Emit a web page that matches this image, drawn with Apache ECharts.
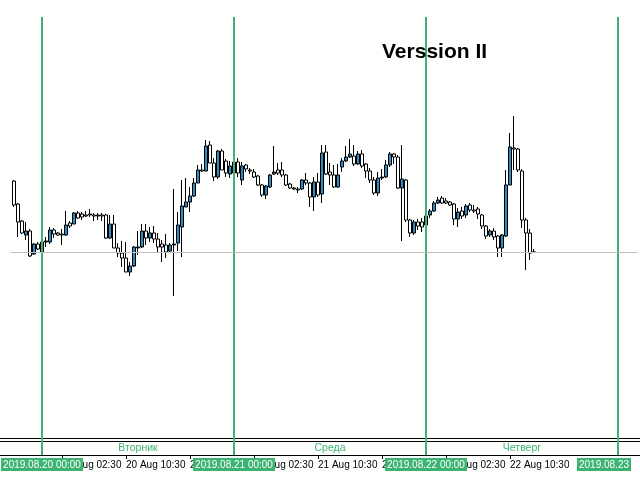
<!DOCTYPE html>
<html>
<head>
<meta charset="utf-8">
<script src="https://cdn.jsdelivr.net/npm/echarts/dist/echarts.min.js"></script>
<style>html,body{margin:0;padding:0;background:#fff}#c{width:640px;height:480px}</style>
</head>
<body>
<div id="c"></div>
<script>
// M30 candles, first candle 2019.08.19 20:30
const firstCandleIndex = 3;
const openP = [1.10219,1.10196,1.10179,1.10165,1.10169,1.10146,1.10156,1.10148,1.10158,1.10158,
1.10170,1.10167,1.10166,1.10165,1.10177,1.10176,1.10187,1.10186,1.10185,1.10186,
1.10185,1.10184,1.10185,1.10185,1.10162,1.10176,1.10152,1.10147,1.10142,1.10128,
1.10134,1.10152,1.10153,1.10169,1.10162,1.10167,1.10161,1.10156,1.10155,1.10149,
1.10155,1.10157,1.10173,1.10193,1.10198,1.10204,1.10217,1.10230,1.10229,1.10255,
1.10237,1.10223,1.10249,1.10239,1.10226,1.10227,1.10238,1.10220,1.10235,1.10230,
1.10228,1.10224,1.10215,1.10205,1.10213,1.10226,1.10230,1.10230,1.10225,1.10216,
1.10212,1.10211,1.10211,1.10220,1.10217,1.10203,1.10218,1.10206,1.10248,1.10228,
1.10225,1.10213,1.10233,1.10239,1.10243,1.10244,1.10236,1.10246,1.10236,1.10229,
1.10220,1.10207,1.10222,1.10223,1.10235,1.10246,1.10243,1.10212,1.10220,1.10180,
1.10167,1.10178,1.10178,1.10175,1.10185,1.10189,1.10197,1.10202,1.10199,1.10198,
1.10196,1.10181,1.10189,1.10185,1.10195,1.10190,1.10191,1.10185,1.10174,1.10165,
1.10169,1.10164,1.10152,1.10164,1.10215,1.10252,1.10251,1.10229,1.10180,1.10167,
1.10148];
const closeP = [1.10195,1.10178,1.10167,1.10169,1.10144,1.10156,1.10151,1.10158,1.10159,1.10170,
1.10166,1.10165,1.10165,1.10175,1.10174,1.10187,1.10182,1.10183,1.10184,1.10185,
1.10184,1.10185,1.10184,1.10162,1.10176,1.10152,1.10147,1.10142,1.10128,1.10134,
1.10153,1.10153,1.10169,1.10162,1.10167,1.10161,1.10153,1.10153,1.10148,1.10155,
1.10156,1.10175,1.10194,1.10198,1.10204,1.10217,1.10230,1.10229,1.10254,1.10237,
1.10223,1.10249,1.10230,1.10227,1.10234,1.10238,1.10227,1.10234,1.10231,1.10229,
1.10223,1.10215,1.10205,1.10214,1.10225,1.10228,1.10227,1.10225,1.10215,1.10212,
1.10211,1.10210,1.10220,1.10217,1.10203,1.10218,1.10205,1.10247,1.10226,1.10225,
1.10213,1.10225,1.10239,1.10243,1.10246,1.10236,1.10246,1.10234,1.10229,1.10220,
1.10207,1.10222,1.10223,1.10235,1.10246,1.10243,1.10212,1.10221,1.10180,1.10167,
1.10178,1.10174,1.10173,1.10184,1.10189,1.10197,1.10200,1.10197,1.10197,1.10195,
1.10181,1.10188,1.10184,1.10194,1.10190,1.10189,1.10186,1.10174,1.10164,1.10169,
1.10163,1.10152,1.10165,1.10215,1.10253,1.10251,1.10230,1.10180,1.10167,1.10147,
1.10148];
const lowP = [1.10193,1.10163,1.10166,1.10160,1.10143,1.10145,1.10150,1.10147,1.10153,1.10156,
1.10162,1.10164,1.10155,1.10164,1.10172,1.10176,1.10181,1.10180,1.10183,1.10183,
1.10179,1.10180,1.10179,1.10161,1.10161,1.10152,1.10143,1.10133,1.10128,1.10124,
1.10133,1.10145,1.10152,1.10155,1.10158,1.10157,1.10148,1.10138,1.10142,1.10147,
1.10104,1.10149,1.10143,1.10193,1.10188,1.10203,1.10217,1.10228,1.10229,1.10237,
1.10219,1.10221,1.10230,1.10223,1.10222,1.10224,1.10223,1.10215,1.10228,1.10226,
1.10222,1.10214,1.10203,1.10201,1.10212,1.10225,1.10225,1.10223,1.10214,1.10211,
1.10210,1.10207,1.10210,1.10215,1.10193,1.10189,1.10203,1.10197,1.10225,1.10215,
1.10212,1.10212,1.10228,1.10238,1.10242,1.10234,1.10235,1.10232,1.10222,1.10217,
1.10205,1.10204,1.10220,1.10222,1.10233,1.10236,1.10211,1.10159,1.10178,1.10163,
1.10165,1.10170,1.10168,1.10174,1.10182,1.10188,1.10196,1.10196,1.10196,1.10194,
1.10175,1.10173,1.10181,1.10182,1.10188,1.10187,1.10181,1.10171,1.10161,1.10163,
1.10160,1.10143,1.10143,1.10163,1.10215,1.10230,1.10228,1.10172,1.10130,1.10140,
1.10147];
const highP = [1.10220,1.10197,1.10180,1.10178,1.10171,1.10157,1.10158,1.10160,1.10163,1.10173,
1.10172,1.10168,1.10171,1.10189,1.10179,1.10188,1.10189,1.10188,1.10189,1.10191,
1.10187,1.10187,1.10187,1.10186,1.10185,1.10185,1.10157,1.10159,1.10158,1.10138,
1.10154,1.10169,1.10176,1.10176,1.10173,1.10174,1.10167,1.10160,1.10166,1.10157,
1.10211,1.10188,1.10220,1.10222,1.10213,1.10222,1.10235,1.10236,1.10260,1.10259,
1.10242,1.10250,1.10251,1.10241,1.10239,1.10240,1.10242,1.10238,1.10236,1.10232,
1.10231,1.10225,1.10216,1.10215,1.10226,1.10254,1.10237,1.10238,1.10226,1.10217,
1.10213,1.10213,1.10221,1.10227,1.10218,1.10223,1.10227,1.10255,1.10255,1.10237,
1.10235,1.10236,1.10242,1.10254,1.10261,1.10255,1.10249,1.10250,1.10237,1.10232,
1.10223,1.10228,1.10231,1.10240,1.10248,1.10247,1.10245,1.10255,1.10221,1.10181,
1.10180,1.10181,1.10182,1.10188,1.10191,1.10199,1.10203,1.10204,1.10202,1.10199,
1.10197,1.10192,1.10193,1.10196,1.10197,1.10195,1.10193,1.10186,1.10175,1.10171,
1.10172,1.10165,1.10166,1.10230,1.10267,1.10284,1.10252,1.10231,1.10182,1.10171,
1.10151];

const dayStarts = ['2019.08.20 00:00','2019.08.21 00:00','2019.08.22 00:00','2019.08.23 00:00'];
const dayStamps = ['2019.08.20 00:00','2019.08.21 00:00','2019.08.22 00:00','2019.08.23'];
const dayNames = ['Вторник','Среда','Четверг'];
const tickLabels = ['20 Aug 02:30','20 Aug 10:30','20 Aug 18:30','21 Aug 02:30','21 Aug 10:30','21 Aug 18:30','22 Aug 02:30','22 Aug 10:30'];
const titleText = 'Verssion II';

// time slots on the axis: M30 from 2019.08.19 19:00, 160 slots
const months = ['Jan','Feb','Mar','Apr','May','Jun','Jul','Aug','Sep','Oct','Nov','Dec'];
const p2 = n => (n < 10 ? '0' : '') + n;
const t0 = Date.UTC(2019, 7, 19, 19, 0);
const categories = [];
for (let i = 0; i < 160; i++) {
  const d = new Date(t0 + i * 1800000);
  categories.push(d.getUTCFullYear() + '.' + p2(d.getUTCMonth() + 1) + '.' + p2(d.getUTCDate()) + ' ' + p2(d.getUTCHours()) + ':' + p2(d.getUTCMinutes()));
}
function shortLabel(c) {
  const m = +c.slice(5, 7), d = +c.slice(8, 10);
  return d + ' ' + months[m - 1] + ' ' + c.slice(11);
}
const candleData = categories.map((c, i) => {
  const k = i - firstCandleIndex;
  return (k >= 0 && k < openP.length) ? [openP[k], closeP[k], lowP[k], highP[k]] : '-';
});
const GREEN = '#3cb371';
const showTick = (idx, val) => tickLabels.indexOf(shortLabel(val)) >= 0;

const sepLines = dayStarts.map((d, i) => {
  const txt = dayStamps[i];
  const padW = txt.length < 16 ? 28 : 0;
  return {
    xAxis: d,
    lineStyle: { color: GREEN, width: 2, type: 'solid' },
    label: {
      show: true, position: 'start', distance: 3,
      formatter: padW ? '{a|' + txt + '}{b|}' : '{a|' + txt + '}',
      rich: {
        a: { backgroundColor: GREEN, color: '#fff', fontSize: 10, fontFamily: 'Liberation Sans', padding: [2, 2, 1, 2] },
        b: { width: padW }
      }
    }
  };
});
const lastClose = closeP[closeP.length - 1];
const bidLine = [
  { coord: [categories[firstCandleIndex - 1], lastClose], lineStyle: { color: '#c0c0c0', width: 1, type: 'solid' }, label: { show: false } },
  { coord: [categories[categories.length - 1], lastClose] }
];

const chart = echarts.init(document.getElementById('c'), null, { renderer: 'canvas' });
chart.setOption({
  animation: false,
  backgroundColor: '#fff',
  title: {
    text: titleText, left: 382, top: 42, padding: 0,
    textStyle: { fontFamily: 'Liberation Sans', fontWeight: 'bold', fontSize: 21, color: '#000' }
  },
  grid: { left: 0, right: 0, top: 17, bottom: 25 },
  xAxis: {
    type: 'category', data: categories, boundaryGap: true,
    axisLine: { show: true, lineStyle: { color: '#000', width: 1 } },
    axisTick: { show: true, alignWithLabel: true, interval: showTick, length: 4, lineStyle: { color: '#000' } },
    axisLabel: { show: true, interval: showTick, formatter: v => shortLabel(v), align: 'left', margin: 5,
      color: '#000', fontSize: 10, fontFamily: 'Liberation Sans' },
    splitLine: { show: false }
  },
  yAxis: { type: 'value', min: 1.09945, max: 1.10383, show: false, splitLine: { show: false } },
  graphic: [
    { type: 'line', shape: { x1: 0, y1: 438.5, x2: 640, y2: 438.5 }, style: { stroke: '#000', lineWidth: 1 }, silent: true },
    { type: 'line', shape: { x1: 0, y1: 441.5, x2: 640, y2: 441.5 }, style: { stroke: '#000', lineWidth: 1 }, silent: true }
  ],
  series: [{
    type: 'candlestick',
    data: candleData,
    barWidth: 3,
    itemStyle: { color: '#2a8cc0', color0: '#ffffff', borderColor: '#000', borderColor0: '#000', borderColorDoji: '#000', borderWidth: 1 },
    markLine: {
      silent: true, symbol: ['none', 'none'], animation: false, precision: 5,
      data: sepLines.concat([bidLine])
    },
    markArea: {
      silent: true,
      itemStyle: { color: 'rgba(0,0,0,0)' },
      label: { show: true, position: 'insideBottom', distance: 1, color: GREEN, fontSize: 10.5, fontFamily: 'Liberation Sans' },
      data: dayNames.map((n, i) => [{ xAxis: dayStarts[i], name: n }, { xAxis: dayStarts[i + 1] }])
    }
  }]
});
</script>
</body>
</html>
